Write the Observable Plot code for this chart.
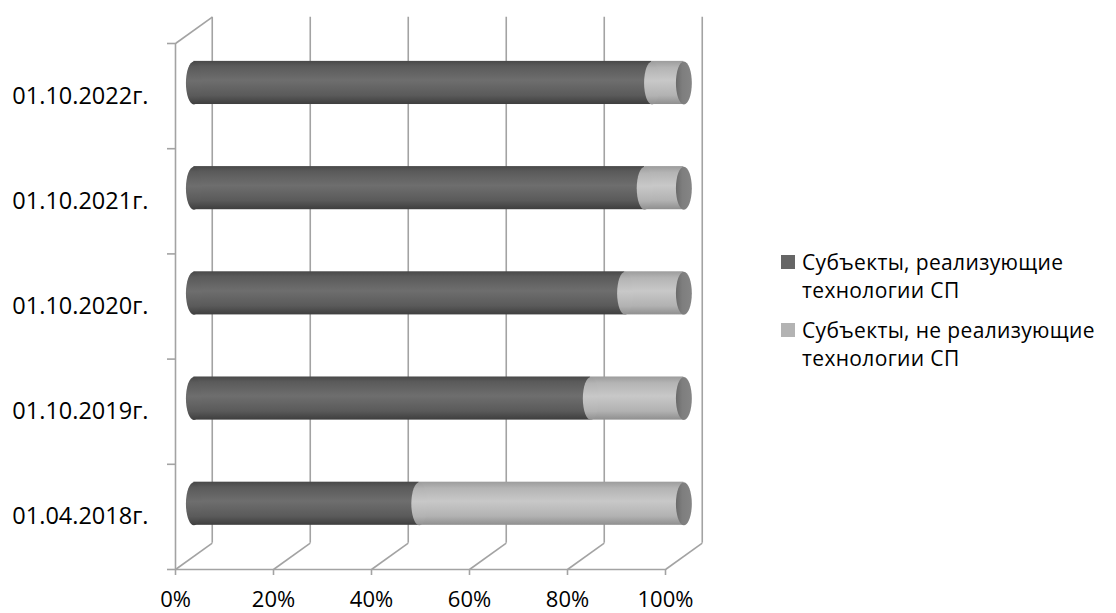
<!DOCTYPE html>
<html>
<head>
<meta charset="utf-8">
<script src="https://cdn.jsdelivr.net/npm/d3@7"></script>
<script src="https://cdn.jsdelivr.net/npm/@observablehq/plot@0.6"></script>
<style>
  html, body { margin: 0; padding: 0; background: #fff; }
  #wrap { position: relative; width: 1116px; height: 613px; font-family: "Open Sans", sans-serif; }
  #legend { position: absolute; left: 781px; top: 248px; font-size: 21px; line-height: 28px; letter-spacing: 0.35px; color: #000; }
  .item { display: flex; align-items: flex-start; margin-bottom: 12px; }
  .sw { width: 14px; height: 14px; margin-top: 7px; margin-right: 7px; flex: none; }
</style>
</head>
<body>
<div id="wrap"><div id="legend"></div></div>
<script>
// ---- data ----
const categories = ["01.04.2018г.", "01.10.2019г.", "01.10.2020г.", "01.10.2021г.", "01.10.2022г."];
const implementing = [46, 81, 88, 92, 93.5];          // % субъекты, реализующие технологии СП
const notImplementing = [54, 19, 12, 8, 6.5];         // % субъекты, не реализующие технологии СП
const seriesNames = ["Субъекты, реализующие технологии СП", "Субъекты, не реализующие технологии СП"];
const xTicks = [0, 20, 40, 60, 80, 100];

// ---- layout constants (pseudo-3D depth in data units) ----
const DX = 7.5, DY = 0.25, H = 0.205;
const gray = "#a3a3a3";

const rows = categories.map((c, i) => ({
  cat: c, i,
  yc: i + 0.5 + DY / 2,
  a: implementing[i],
  b: implementing[i] + notImplementing[i]
}));

const ellipse = {
  draw(context, size) {
    const r = Math.sqrt(size / Math.PI);
    const rx = r * 0.37, ry = r, k = 0.5523;
    context.moveTo(rx, 0);
    context.bezierCurveTo(rx, ry * k, rx * k, ry, 0, ry);
    context.bezierCurveTo(-rx * k, ry, -rx, ry * k, -rx, 0);
    context.bezierCurveTo(-rx, -ry * k, -rx * k, -ry, 0, -ry);
    context.bezierCurveTo(rx * k, -ry, rx, -ry * k, rx, 0);
    context.closePath();
  }
};
const R = 21.5;

const chart = Plot.plot({
  width: 1116,
  height: 613,
  marginLeft: 175,
  marginRight: 451,
  marginTop: 43,
  marginBottom: 44,
  style: { fontFamily: "Open Sans", fontSize: "22px", background: "white", color: "#000", overflow: "visible" },
  x: { domain: [0, 100] },
  y: { domain: [0, 5] },
  marks: [
    // back wall gridlines
    Plot.ruleX(xTicks, { x: d => d + DX, y1: DY, y2: 5 + DY, stroke: gray, strokeWidth: 1.6 }),
    // floor diagonals
    Plot.link(xTicks, { x1: d => d, y1: 0, x2: d => d + DX, y2: DY, stroke: gray, strokeWidth: 1.6 }),
    // top-left diagonal
    Plot.link([0], { x1: 0, y1: 5, x2: DX, y2: 5 + DY, stroke: gray, strokeWidth: 1.6 }),
    // front axes lines
    Plot.ruleY([0], { x1: 0, x2: 100, stroke: gray, strokeWidth: 1.6 }),
    Plot.ruleX([0], { y1: 0, y2: 5, stroke: gray, strokeWidth: 1.6 }),
    // axes
    Plot.axisX({ ticks: xTicks, tickSize: 6, tickPadding: 16, tickFormat: d => d + "%", stroke: gray, strokeWidth: 1.6, fill: "#000", fontSize: 22, label: null }),
    Plot.axisY({ ticks: [0, 1, 2, 3, 4, 5], tickSize: 8, tickFormat: () => "", stroke: gray, strokeWidth: 1.6, label: null }),
    Plot.axisY({ ticks: categories.map((c, i) => i + 0.5), tickSize: 0, tickPadding: 27, tickFormat: d => categories[Math.floor(d)], fill: "#000", fontSize: 23.5, label: null }),
    // dark cylinder segment
    Plot.rect(rows, { x1: DX / 2, x2: d => d.a + DX / 2, y1: d => d.yc - H, y2: d => d.yc + H, fill: "url(#gDark)" }),
    Plot.dot(rows, { x: DX / 2, y: "yc", r: R, symbol: ellipse, fill: "url(#gDark)", stroke: "none" }),
    // light cylinder segment
    Plot.rect(rows, { x1: d => d.a + DX / 2, x2: d => d.b + DX / 2, y1: d => d.yc - H, y2: d => d.yc + H, fill: "url(#gLight)" }),
    Plot.dot(rows, { x: d => d.a + DX / 2, y: "yc", r: R, symbol: ellipse, fill: "url(#gLight)", stroke: "none" }),
    // right end face
    Plot.dot(rows, { x: d => d.b + DX / 2, y: "yc", r: R, symbol: ellipse, fill: "url(#gEnd)", stroke: "none" })
  ]
});

// gradients for cylinder shading
const ns = "http://www.w3.org/2000/svg";
const defs = document.createElementNS(ns, "defs");
function grad(id, stops, horizontal) {
  const g = document.createElementNS(ns, "linearGradient");
  g.setAttribute("id", id);
  g.setAttribute("x1", "0"); g.setAttribute("y1", "0");
  g.setAttribute("x2", horizontal ? "1" : "0"); g.setAttribute("y2", horizontal ? "0" : "1");
  stops.forEach(([o, c]) => {
    const s = document.createElementNS(ns, "stop");
    s.setAttribute("offset", o); s.setAttribute("stop-color", c);
    g.appendChild(s);
  });
  defs.appendChild(g);
}
grad("gDark", [[0, "#484848"], [0.12, "#5a5a5a"], [0.45, "#6e6e6e"], [0.8, "#5a5a5a"], [1, "#3e3e3e"]]);
grad("gLight", [[0, "#9c9c9c"], [0.15, "#b4b4b4"], [0.45, "#c8c8c8"], [0.8, "#b2b2b2"], [1, "#8f8f8f"]]);
grad("gEnd", [[0, "#6a6a6a"], [0.4, "#7e7e7e"], [1, "#858585"]], true);
const svg = chart.tagName.toLowerCase() === "svg" ? chart : chart.querySelector("svg");
svg.insertBefore(defs, svg.firstChild);

document.getElementById("wrap").insertBefore(chart, document.getElementById("legend"));

// legend
const legendColors = ["#666666", "#b3b3b3"];
const lg = document.getElementById("legend");
seriesNames.forEach((name, i) => {
  const item = document.createElement("div");
  item.className = "item";
  const sw = document.createElement("div");
  sw.className = "sw";
  sw.style.background = legendColors[i];
  const t = document.createElement("div");
  const parts = name.split(" технологии");
  const l1 = document.createElement("div"); l1.textContent = parts[0];
  const l2 = document.createElement("div"); l2.textContent = "технологии" + parts[1];
  t.appendChild(l1); t.appendChild(l2);
  item.appendChild(sw); item.appendChild(t);
  lg.appendChild(item);
});
</script>
</body>
</html>
